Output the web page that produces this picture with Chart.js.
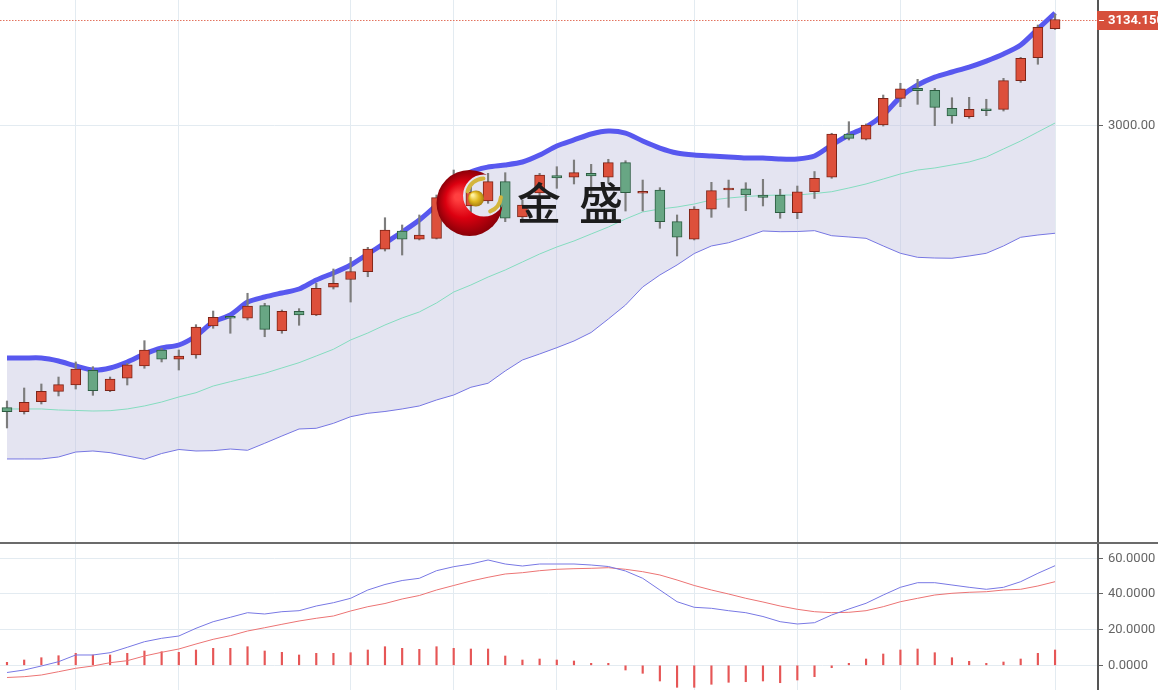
<!DOCTYPE html>
<html><head><meta charset="utf-8">
<script src="https://cdn.jsdelivr.net/npm/chart.js@4.4.1/dist/chart.umd.min.js"></script>
<style>
html,body{margin:0;padding:0;background:#fff;overflow:hidden;width:1158px;height:690px}
#wrap{position:relative;width:1158px;height:690px}
#main{position:absolute;left:0;top:0;width:1158px;height:544px}
#macd{position:absolute;left:0;top:544px;width:1158px;height:146px}
</style></head><body>
<div id="wrap"><canvas id="main" width="1158" height="544"></canvas><canvas id="macd" width="1158" height="146"></canvas></div>
<script>
// ---- price data (one candle per period) ----
const opens  = [2641.9,2636.8,2649.5,2662.7,2670.7,2689.3,2663.5,2679.2,2694.8,2715.1,2703.3,2708.7,2745.5,2756.9,2755.3,2771.3,2739.6,2764.2,2759.5,2794.6,2804.5,2814.4,2842.8,2866.0,2855.5,2856.7,2907.8,2897.7,2904.0,2928.5,2883.7,2914.2,2936.1,2934.1,2939.1,2934.1,2952.6,2913.8,2918.0,2877.8,2855.5,2893.5,2918.0,2919.6,2911.6,2911.6,2889.2,2915.8,2934.1,2989.0,2982.3,3000.4,3034.2,3046.9,3044.4,3021.6,3010.9,3020.3,3020.3,3056.6,3085.7,3122.5];
const highs  = [2650.4,2666.9,2672.0,2680.8,2699.9,2693.9,2680.8,2698.2,2726.9,2717.2,2715.1,2747.2,2764.5,2757.3,2787.0,2774.3,2765.8,2767.5,2799.7,2817.8,2832.6,2845.3,2882.8,2873.6,2886.3,2911.6,2943.3,2923.0,2939.1,2939.9,2905.3,2939.1,2947.5,2956.0,2950.5,2956.9,2955.1,2930.6,2920.9,2886.3,2896.8,2927.7,2930.6,2927.2,2931.5,2918.9,2923.0,2941.4,2989.9,3004.6,3001.7,3038.4,3053.3,3058.3,3046.9,3035.0,3035.5,3033.0,3059.6,3086.2,3127.2,3141.1];
const lows   = [2616.2,2633.9,2646.6,2656.8,2665.6,2657.6,2662.2,2670.7,2691.9,2699.9,2689.7,2704.6,2742.6,2736.3,2753.1,2731.9,2736.3,2746.4,2758.6,2792.4,2775.9,2808.0,2840.6,2835.5,2854.6,2855.8,2901.5,2890.1,2901.1,2877.8,2877.4,2905.3,2920.1,2925.6,2911.6,2926.8,2891.3,2891.3,2869.4,2834.3,2854.6,2883.3,2896.0,2891.7,2897.7,2882.1,2881.6,2907.2,2932.8,2981.4,2981.4,2999.1,3023.6,3026.6,2999.5,3002.5,3008.9,3012.2,3018.1,3054.5,3077.4,3121.5];
const closes = [2636.8,2648.8,2662.7,2671.1,2691.0,2663.5,2678.3,2696.4,2715.1,2703.3,2707.5,2744.2,2756.5,2755.3,2770.9,2741.3,2764.2,2759.5,2793.3,2799.7,2814.6,2843.2,2867.2,2855.5,2860.9,2908.2,2930.6,2915.4,2928.5,2882.1,2898.9,2937.0,2933.2,2939.9,2935.7,2952.6,2914.5,2915.8,2877.8,2858.0,2893.9,2917.1,2919.6,2911.6,2908.7,2889.2,2915.8,2932.8,2989.0,2983.5,3000.4,3034.2,3046.4,3043.9,3022.8,3011.8,3020.3,3018.5,3056.6,3085.0,3124.3,3134.15];
// ---- Bollinger bands ----
const bollUpper = [2704.9,2704.9,2704.9,2701.1,2694.8,2689.7,2692.3,2699.9,2710.0,2717.6,2721.4,2732.8,2750.6,2759.5,2775.9,2782.3,2787.4,2792.4,2803.8,2812.7,2822.9,2836.8,2850.8,2864.7,2879.9,2898.9,2920.5,2940.8,2947.1,2949.7,2953.5,2962.3,2973.8,2981.4,2989.0,2992.8,2990.2,2980.1,2971.2,2964.9,2962.3,2961.1,2959.8,2958.5,2958.5,2957.3,2957.3,2961.1,2975.0,2987.7,2997.8,3013.1,3035.9,3051.1,3061.2,3067.6,3073.9,3081.5,3090.4,3101.8,3122.1,3142.4];
const bollMid   = [2640.3,2640.3,2640.3,2639.0,2638.4,2637.7,2638.1,2640.3,2644.1,2649.1,2655.5,2660.9,2669.4,2674.9,2680.2,2685.5,2692.3,2699.0,2707.5,2716.0,2727.8,2736.6,2746.8,2755.7,2763.3,2774.7,2788.6,2797.5,2807.6,2816.5,2826.7,2836.8,2845.7,2853.3,2862.2,2871.0,2881.2,2890.1,2893.9,2896.4,2900.2,2905.3,2907.8,2909.7,2911.0,2911.6,2911.6,2913.5,2915.8,2920.5,2925.6,2931.9,2938.3,2943.3,2945.9,2949.7,2953.5,2959.8,2970.0,2980.1,2991.5,3002.9];
const bollLower = [2576.9,2576.9,2576.9,2579.4,2585.7,2587.0,2584.9,2580.7,2576.5,2583.8,2588.9,2587.0,2587.4,2589.5,2587.9,2596.8,2606.0,2614.9,2615.8,2622.1,2630.5,2634.8,2637.1,2640.3,2644.1,2651.7,2658.0,2667.8,2672.9,2688.5,2702.4,2710.0,2718.0,2726.5,2737.3,2754.4,2772.1,2795.0,2810.2,2822.9,2837.4,2847.0,2851.1,2858.4,2866.0,2865.1,2865.3,2866.4,2860.0,2858.4,2856.7,2847.0,2837.7,2832.6,2831.7,2831.4,2834.3,2837.7,2847.0,2858.0,2860.9,2863.1];
// ---- MACD ----
const macdDif  = [-4.04,-2.64,-0.39,2.02,5.78,5.78,7.07,10.09,13.23,15.14,16.43,20.75,24.45,26.92,29.50,28.77,30.06,30.62,33.25,35.10,37.57,42.22,45.31,47.55,48.79,53.05,55.29,56.80,59.05,56.80,55.68,56.80,56.80,56.80,56.24,55.40,52.88,48.79,42.22,35.66,32.52,31.96,30.62,29.50,27.36,24.45,23.16,23.89,28.21,31.57,34.77,39.42,43.74,46.32,46.32,45.03,43.74,42.62,43.74,46.88,51.59,55.85];
const macdDea  = [-6.84,-6.39,-5.44,-3.59,-1.68,-0.39,1.46,2.58,5.22,7.29,9.14,11.94,14.58,16.60,19.23,21.08,22.99,24.84,26.36,27.65,30.45,32.86,34.65,37.18,39.14,42.22,44.75,47.27,49.35,51.20,51.93,53.05,53.83,54.17,54.39,54.73,53.83,52.49,50.64,47.83,44.75,42.22,39.98,37.57,35.50,33.25,31.40,30.06,29.50,29.72,30.62,32.86,35.66,37.57,39.42,40.37,40.94,41.27,42.22,42.62,44.47,46.88];
const macdHist = [1.68,2.97,4.26,5.38,6.73,5.78,5.78,6.73,8.02,7.63,7.29,8.58,9.53,9.53,10.43,8.02,7.29,5.78,6.73,6.73,7.07,8.58,10.43,9.53,8.97,10.43,9.53,9.14,9.14,5.22,2.97,3.53,2.97,2.41,1.12,1.12,-2.64,-4.49,-8.80,-12.34,-12.34,-10.65,-9.53,-9.20,-8.80,-9.76,-8.24,-6.39,-1.35,1.12,3.53,6.34,8.58,9.14,7.07,4.26,2.24,1.12,1.85,3.53,6.73,8.58];
// ---- axis ticks ----
const gridPeriods = [4,10,20,26,32,40,46,52,61];
const priceTicks = [3000];
const macdTicks = [0,20,40,60];
const lastPriceText = '3134.150';

const periodIndex = opens.map((_, i) => i);
const pts = arr => periodIndex.map(i => ({x: i, y: arr[i]}));
const isUp = periodIndex.map(i => closes[i] >= opens[i]);

const X_MIN = -0.407, X_MAX = 63.5;
const GRID = '#e3ebf1';
const AXIS_W = 60;
const tickFont = {family: 'Roboto', size: 13};

function xScale() {
  return {
    type: 'linear', min: X_MIN, max: X_MAX, offset: false,
    grid: {color: GRID, lineWidth: 1, drawTicks: false, offset: false},
    border: {display: false},
    ticks: {display: false},
    afterBuildTicks: s => { s.ticks = gridPeriods.map(v => ({value: v})); }
  };
}
function yScale(min, max, ticks, digits) {
  return {
    position: 'right', min, max,
    grid: {color: GRID, tickColor: '#666', tickLength: 5, drawTicks: true},
    border: {display: true, color: '#555', width: 2},
    ticks: {color: '#666', font: tickFont, padding: 5, callback: v => Number(v).toFixed(digits)},
    afterBuildTicks: s => { s.ticks = ticks.map(v => ({value: v})); },
    afterFit: s => { s.width = AXIS_W; s.paddingTop = 0; s.paddingBottom = 0; }
  };
}

const mainPlugin = {
  id: 'mainDeco',
  beforeDatasetsDraw(chart) {
    const {ctx, chartArea, scales: {y}} = chart;
    const py = Math.round(y.getPixelForValue(closes[closes.length - 1])) + 0.5;
    ctx.save();
    ctx.strokeStyle = '#e2735f';
    ctx.lineWidth = 1;
    ctx.setLineDash([1.5, 1.5]);
    ctx.beginPath(); ctx.moveTo(chartArea.left, py); ctx.lineTo(chartArea.right, py); ctx.stroke();
    ctx.restore();
  },
  afterDatasetsDraw(chart) {
    const ctx = chart.ctx;
    ctx.save();
    // watermark logo: red crescent (outer disc minus an inner disc offset to the upper right)
    const cx = 469.5, cy = 203, R = 33;
    const hx = 484, hy = 195.5, hr = 21;
    ctx.save();
    ctx.beginPath();
    ctx.rect(0, 0, chart.width, chart.height);
    ctx.moveTo(hx + hr, hy);
    ctx.arc(hx, hy, hr, 0, Math.PI * 2, true);
    ctx.clip('evenodd');
    const g = ctx.createRadialGradient(cx - 12, cy - 6, 3, cx, cy, R);
    g.addColorStop(0, '#ff4040'); g.addColorStop(0.5, '#dc0010'); g.addColorStop(1, '#8a0008');
    ctx.beginPath(); ctx.arc(cx, cy, R, 0, Math.PI * 2);
    ctx.fillStyle = g; ctx.fill();
    ctx.restore();
    // gold swooshes
    ctx.strokeStyle = '#d4b53c'; ctx.lineCap = 'round';
    ctx.lineWidth = 4;
    ctx.beginPath(); ctx.arc(hx, hy, 17, -2.9, -1.6); ctx.stroke();
    ctx.beginPath(); ctx.arc(hx, hy, 17, 0.1, 1.2); ctx.stroke();
    // gold ball
    const gb = ctx.createRadialGradient(472.5, 195, 1, 476, 198.5, 8.5);
    gb.addColorStop(0, '#fff2a0'); gb.addColorStop(0.5, '#e2b920'); gb.addColorStop(1, '#a27a10');
    ctx.beginPath(); ctx.arc(476, 198.5, 8, 0, Math.PI * 2); ctx.fillStyle = gb; ctx.fill();
    // brand text
    ctx.font = '500 44px "Noto Sans CJK SC"';
    ctx.fillStyle = '#1c1c1c'; ctx.textAlign = 'center'; ctx.textBaseline = 'middle';
    ctx.fillText('金', 539, 203);
    ctx.fillText('盛', 601, 203);
    ctx.restore();
  },
  afterDraw(chart) {
    const {ctx, scales: {y}} = chart;
    const py = Math.round(y.getPixelForValue(closes[closes.length - 1])) + 0.5;
    ctx.save();
    ctx.fillStyle = '#d64f3b';
    ctx.fillRect(y.left - 1, py - 9.5, 62, 19);
    ctx.strokeStyle = '#fff'; ctx.lineWidth = 1;
    ctx.beginPath(); ctx.moveTo(y.left + 1, py); ctx.lineTo(y.left + 6, py); ctx.stroke();
    ctx.fillStyle = '#fff'; ctx.font = 'bold 13px Roboto';
    ctx.textAlign = 'left'; ctx.textBaseline = 'middle';
    ctx.fillText(lastPriceText, y.left + 10, py + 0.5);
    // divider between panels
    ctx.fillStyle = '#6b6b6b';
    ctx.fillRect(0, 542, 1158, 2);
    ctx.restore();
  }
};

const common = {
  responsive: false, animation: false, devicePixelRatio: 1, events: [],
  plugins: {legend: {display: false}, tooltip: {enabled: false}}
};

new Chart(document.getElementById('main'), {
  data: {
    datasets: [
      {type: 'bar', label: 'body', data: periodIndex.map(i => ({x: i, y: [opens[i], closes[i]]})),
       backgroundColor: isUp.map(u => u ? '#dd503b' : '#68a684'),
       borderColor: isUp.map(u => u ? '#7c2418' : '#2c5c41'),
       borderWidth: 1, borderSkipped: false, barThickness: 10, grouped: false, minBarLength: 2, order: 1},
      {type: 'bar', label: 'wick', data: periodIndex.map(i => ({x: i, y: [lows[i], highs[i]]})),
       backgroundColor: '#7d7d7d', borderWidth: 0, barThickness: 1.5, grouped: false, order: 2},
      {type: 'line', label: 'upper', data: pts(bollUpper), borderColor: '#5858ef', borderWidth: 5,
       pointRadius: 0, tension: 0.25, fill: false, order: 3},
      {type: 'line', label: 'mid', data: pts(bollMid), borderColor: '#84dcbf', borderWidth: 1,
       pointRadius: 0, tension: 0, fill: false, order: 4},
      {type: 'line', label: 'lower', data: pts(bollLower), borderColor: '#7676e2', borderWidth: 1,
       pointRadius: 0, tension: 0, fill: {target: 2}, backgroundColor: 'rgba(190,190,222,0.42)', order: 5}
    ]
  },
  options: Object.assign({}, common, {
    layout: {padding: {left: 0, right: 0, top: 0, bottom: 2}},
    scales: {x: xScale(), y: yScale(2471.6, 3158.9, priceTicks, 2)}
  }),
  plugins: [mainPlugin]
});

new Chart(document.getElementById('macd'), {
  data: {
    datasets: [
      {type: 'line', label: 'DIF', data: pts(macdDif), borderColor: '#7878e4', borderWidth: 1, pointRadius: 0, tension: 0, order: 1},
      {type: 'line', label: 'DEA', data: pts(macdDea), borderColor: '#ec7474', borderWidth: 1, pointRadius: 0, tension: 0, order: 2},
      {type: 'bar', label: 'MACD', data: pts(macdHist), backgroundColor: '#e65656', borderWidth: 0,
       barThickness: 1.5, grouped: false, order: 3}
    ]
  },
  options: Object.assign({}, common, {
    layout: {padding: 0},
    scales: {x: xScale(), y: yScale(-13.85, 68.02, macdTicks, 4)}
  })
});
</script>
</body></html>
